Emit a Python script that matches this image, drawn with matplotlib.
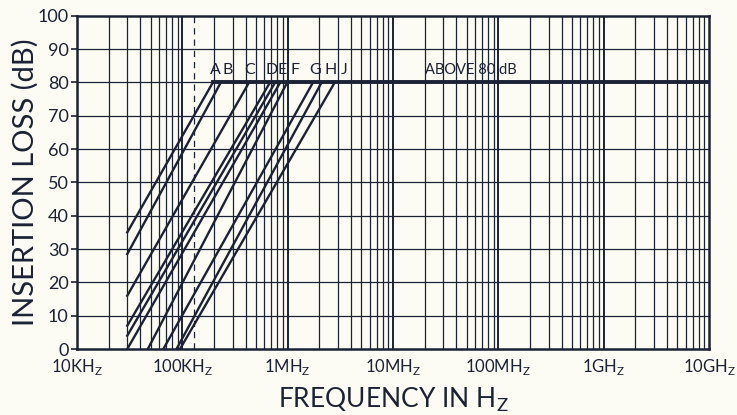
import numpy as np
import matplotlib
matplotlib.use("Agg")
import matplotlib.pyplot as plt

ink = "#1b2236"
paper = "#fdfcf4"

# filter curves: start point (freq, loss) and freq where loss reaches 80 dB
start_freq = [30e3, 30e3, 30e3, 30e3, 30e3, 30e3, 47e3, 66e3, 88e3, 95e3]
start_loss = [35, 28.5, 16, 7, 4, 0, 0, 0, 0, 0]
freq_at_80 = [195e3, 232e3, 430e3, 680e3, 760e3, 850e3, 990e3, 1.74e6, 2.1e6, 2.8e6]

curve_letters = ["A", "B", "C", "D", "E", "F", "G", "H", "J"]
letter_freq = [205e3, 272e3, 440e3, 711e3, 885e3, 1.175e6, 1.82e6, 2.53e6, 3.43e6]

tick_freq = [1e4, 1e5, 1e6, 1e7, 1e8, 1e9, 1e10]
tick_names = ["10KH", "100KH", "1MH", "10MH", "100MH", "1GH", "10GH"]
dashed_freq = 130e3

fig = plt.figure(figsize=(7.37, 4.15), dpi=100)
fig.patch.set_facecolor(paper)
ax = fig.add_axes([0.1045, 0.159, 0.8575, 0.803])
ax.set_facecolor(paper)
ax.set_xscale("log")
ax.set_xlim(1e4, 1e10)
ax.set_ylim(0, 100)

# log grid
for dec in range(4, 10):
    for m in range(1, 10):
        f = m * 10.0 ** dec
        ax.axvline(f, color=ink, lw=1.4 if m == 1 else 0.9, zorder=1)
for y in range(10, 100, 10):
    ax.axhline(y, color=ink, lw=0.9, zorder=1)

ax.axvline(dashed_freq, color=ink, lw=0.9, ls=(0, (5, 4)), zorder=2)

for f0, l0, f80 in zip(start_freq, start_loss, freq_at_80):
    ax.plot([f0, f80], [l0, 80], color=ink, lw=1.7, zorder=3)
ax.plot([min(freq_at_80), 1e10], [80, 80], color=ink, lw=2.8, zorder=3)

font = "Lato"
for lab, f in zip(curve_letters, letter_freq):
    ax.text(f, 81.5, lab, ha="center", va="bottom", fontsize=11.5, color=ink, family=font)
ax.text(20.2e6, 81.5, "ABOVE 80 dB", ha="left", va="bottom", fontsize=10.5, color=ink, family=font)

for s in ax.spines.values():
    s.set_color(ink)
    s.set_linewidth(1.8)

ax.set_xticks(tick_freq)
ax.set_xticklabels([n + r"$_\mathregular{Z}$" for n in tick_names], fontsize=12, family=font, color=ink)
ax.xaxis.set_minor_locator(matplotlib.ticker.NullLocator())
ax.tick_params(axis="x", length=0, pad=6)
ax.set_yticks(range(0, 101, 10))
ax.set_yticklabels([str(v) for v in range(0, 101, 10)], fontsize=13, family=font, color=ink)
ax.tick_params(axis="y", length=4, width=1.2, color=ink, pad=2)

ax.set_xlabel(r"FREQUENCY IN H$_\mathregular{Z}$", fontsize=19, family=font, color=ink, labelpad=6)
ax.set_ylabel("INSERTION LOSS (dB)", fontsize=21, family=font, color=ink, labelpad=-1)

fig.savefig("out.png", dpi=100, facecolor=paper)
